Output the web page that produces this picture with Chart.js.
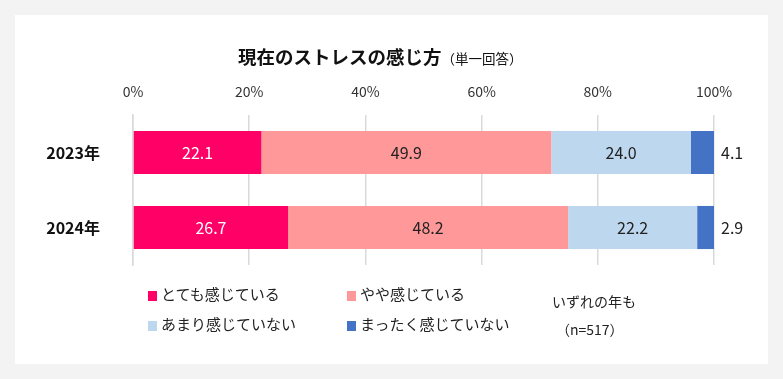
<!DOCTYPE html>
<html><head><meta charset="utf-8">
<script src="https://cdn.jsdelivr.net/npm/chart.js@4"></script>
<style>
html,body{margin:0;padding:0;background:#f3f3f3;}
#wrap{position:relative;width:783px;height:379px;overflow:hidden;font-family:"Noto Sans CJK JP","Noto Sans",sans-serif;}
#panel{position:absolute;left:15px;top:15px;width:753px;height:349px;background:#fff;}
#c{position:absolute;left:0;top:0;}
#title{position:absolute;left:238px;top:43px;color:#111;white-space:nowrap;}
#title b{font-size:18.5px;font-weight:bold;}
#title span{font-size:13.5px;}
.lg{position:absolute;font-size:15px;color:#222;white-space:nowrap;line-height:18px;}
.lg i{display:inline-block;width:9px;height:10px;margin-right:4px;vertical-align:-1px;}
.note{position:absolute;font-size:14px;color:#222;white-space:nowrap;}
</style></head>
<body><div id="wrap"><div id="panel"></div>
<canvas id="c" width="783" height="379"></canvas>
<div id="title"><b>現在のストレスの感じ方</b><span>（単一回答）</span></div>
<div id="legend"></div>
<div class="note" style="left:552px;top:291px;">いずれの年も</div>
<div class="note" style="left:556px;top:319px;">（n=517）</div>
</div>
<script>
const categories = ["2023年", "2024年"];
const seriesNames = ["とても感じている", "やや感じている", "あまり感じていない", "まったく感じていない"];
const veryMuch = [22.1, 26.7];
const somewhat = [49.9, 48.2];
const notMuch = [24.0, 22.2];
const notAtAll = [4.1, 2.9];
const tickValues = [0, 20, 40, 60, 80, 100];
const colors = ["#ff0066", "#ff9999", "#bdd7ee", "#4472c4"];
const labelColors = ["#ffffff", "#222222", "#222222", "#222222"];

const legendPos = [[148,285],[347,285],[148,315],[347,315]];
const lg = document.getElementById('legend');
seriesNames.forEach((n,i)=>{
  const d=document.createElement('div');d.className='lg';
  d.style.left=legendPos[i][0]+'px';d.style.top=legendPos[i][1]+'px';
  d.innerHTML='<i style="background:'+colors[i]+'"></i>'+n;
  lg.appendChild(d);
});

const valueLabels = {
  id:'valueLabels',
  afterDatasetsDraw(chart){
    const ctx=chart.ctx;
    ctx.save();
    ctx.font='16px "Noto Sans CJK JP", "Noto Sans", sans-serif';
    ctx.textBaseline='middle';
    chart.data.datasets.forEach((ds,di)=>{
      const meta=chart.getDatasetMeta(di);
      meta.data.forEach((bar,i)=>{
        const v=ds.data[i];
        const txt=v.toFixed(1);
        if(di===3){
          ctx.fillStyle='#222';ctx.textAlign='left';
          ctx.fillText(txt, chart.chartArea.right+7, bar.y);
        } else {
          ctx.fillStyle=labelColors[di];ctx.textAlign='center';
          ctx.fillText(txt,(bar.base+bar.x)/2,bar.y);
        }
      });
    });
    ctx.restore();
  }
};

new Chart(document.getElementById('c'),{
  type:'bar',
  data:{labels:categories,datasets:[veryMuch,somewhat,notMuch,notAtAll].map((d,i)=>({
    label:seriesNames[i],data:d,backgroundColor:colors[i],borderWidth:0,
    barPercentage:0.575,categoryPercentage:1
  }))},
  options:{
    indexAxis:'y',responsive:false,animation:false,
    layout:{padding:{left:15,top:75,right:69,bottom:114}},
    plugins:{legend:{display:false},tooltip:{enabled:false}},
    scales:{
      x:{position:'top',stacked:true,min:0,max:100,
        afterBuildTicks(s){s.ticks=tickValues.map(v=>({value:v}));},
        afterFit(s){s.height=40;},
        ticks:{callback:v=>v+'%',color:'#333',padding:15,font:{size:14,family:'"Noto Sans CJK JP", "Noto Sans", sans-serif'}},
        grid:{color:'#d9d9d9',lineWidth:1.5,drawTicks:false},
        border:{display:false}
      },
      y:{stacked:true,
        afterFit(s){s.width=118;},
        ticks:{color:'#111',padding:33,font:{size:16,weight:'bold',family:'"Noto Sans CJK JP", "Noto Sans", sans-serif'}},
        grid:{display:false,drawTicks:false},
        border:{display:true,color:'#d9d9d9',width:1.5}
      }
    }
  },
  plugins:[valueLabels]
});
</script></body></html>
